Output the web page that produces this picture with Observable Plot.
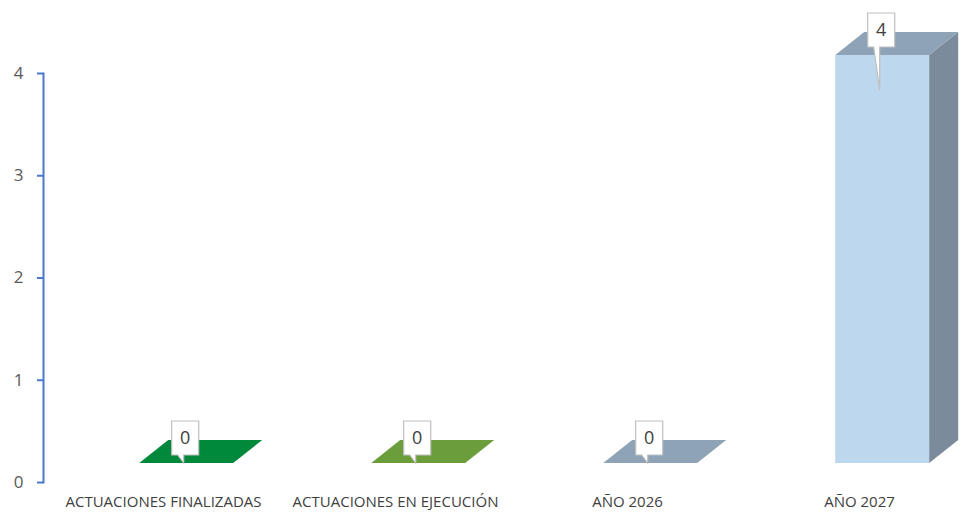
<!DOCTYPE html>
<html>
<head>
<meta charset="utf-8">
<script src="https://cdn.jsdelivr.net/npm/d3@7"></script>
<script src="https://cdn.jsdelivr.net/npm/@observablehq/plot@0.6"></script>
<style>
  html, body { margin: 0; padding: 0; background: #ffffff; }
  #chart { width: 965px; height: 518px; }
</style>
</head>
<body>
<div id="chart"></div>
<script>
// ---- data ----
const categories = ["ACTUACIONES FINALIZADAS", "ACTUACIONES EN EJECUCIÓN", "AÑO 2026", "AÑO 2027"];
const values = [0, 0, 0, 4];
const yTicks = [0, 1, 2, 3, 4];
const frontColors = ["#00893a", "#6b9e3a", "#8ea3b6", "#bdd7ee"];
const topColors = ["#00893a", "#6b9e3a", "#8ea3b6", "#8fa3b6"];
const sideColors = ["#006b2d", "#557f2e", "#73879a", "#7b8b9c"];

const data = categories.map((c, i) => ({cat: c, value: values[i], i}));

const FONT = "'Open Sans', 'Liberation Sans', sans-serif";

function render3D(index, scales, vals, dimensions) {
  const x = scales.x, y = scales.y;
  const bw = x.bandwidth();
  const g = d3.create("svg:g");
  for (const k of index) {
    const d = data[k];
    const cx = x(d.cat) + bw / 2 + bw * 0.1;   // front-face centre
    const w = bw * 0.405;
    const x0 = cx - w / 2, x1 = cx + w / 2;
    const base = y(0) - 19;
    const top = y(d.value) - 18 + (d.value === 0 ? -1 : 0);
    const yb = Math.min(base, top);
    const ddx = 29, ddy = 23;
    // front face
    if (base - yb > 0.5) {
      g.append("rect").attr("x", x0).attr("y", yb).attr("width", w).attr("height", base - yb)
        .attr("fill", frontColors[d.i]);
      // side face
      g.append("path")
        .attr("d", `M${x1},${yb}L${x1 + ddx},${yb - ddy}L${x1 + ddx},${base - ddy}L${x1},${base}Z`)
        .attr("fill", sideColors[d.i]);
    }
    // top face
    g.append("path")
      .attr("d", `M${x0},${yb}L${x1},${yb}L${x1 + ddx},${yb - ddy}L${x0 + ddx},${yb - ddy}Z`)
      .attr("fill", topColors[d.i]);

    // callout label
    const bxw = 27, bxh = 34;
    const bl = cx - 1 - bxw / 2;
    const bBottom = yb - 8;
    const bTop = bBottom - bxh;
    const tipY = Math.min(base, yb + 35);
    const p1 = bl + 6, p2 = bl + 12, tipX = bl + 12;
    g.append("path")
      .attr("d", `M${bl},${bTop}L${bl + bxw},${bTop}L${bl + bxw},${bBottom}L${p2},${bBottom}L${tipX},${tipY}L${p1},${bBottom}L${bl},${bBottom}Z`)
      .attr("fill", "#ffffff").attr("stroke", "#bfbfbf").attr("stroke-width", 1.2);
    g.append("text")
      .attr("x", bl + bxw / 2).attr("y", (bTop + bBottom) / 2)
      .attr("dy", "0.35em").attr("text-anchor", "middle")
      .attr("font-family", FONT).attr("font-size", 18).attr("fill", "#404040")
      .text(String(d.value));
  }
  return g.node();
}

const chart = Plot.plot({
  width: 965,
  height: 518,
  marginLeft: 43,
  marginRight: 0,
  marginTop: 73,
  marginBottom: 36,
  style: {fontFamily: FONT, background: "#ffffff", overflow: "visible"},
  x: {domain: categories, range: [46, 975], padding: 0, label: null},
  y: {domain: [0, 4], label: null},
  marks: [
    Plot.barY(data, {x: "cat", y: "value", render: render3D}),
    Plot.frame({anchor: "left", stroke: "#4a78cc", strokeWidth: 2}),
    Plot.axisY({ticks: yTicks, tickSize: 6, tickPadding: 14, stroke: "#4a78cc", strokeWidth: 2,
      fill: "#595959", fontSize: 17, tickFormat: d3.format("d"), label: null}),
    Plot.axisX({tickSize: 0, tickPadding: 14, fill: "#404040", fontSize: 15, label: null})
  ]
});
document.getElementById("chart").appendChild(chart);
</script>
</body>
</html>
